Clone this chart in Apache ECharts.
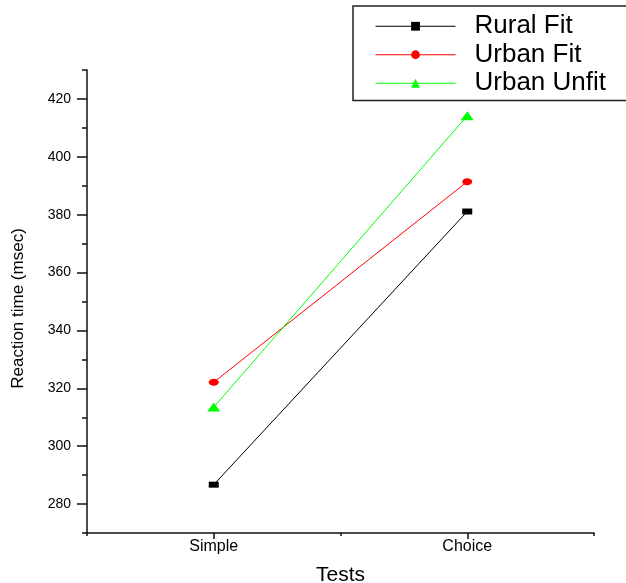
<!DOCTYPE html>
<html>
<head>
    <meta charset="utf-8">
    <title>Reaction time</title>
    <script src="https://cdn.jsdelivr.net/npm/echarts@6/dist/echarts.min.js"></script>
    <style>
        html, body { margin: 0; padding: 0; background: #fff; }
    </style>
</head>
<body>
<div id="main" style="width: 626px;height:583px;"></div>
<script type="text/javascript">
    // data
    var categories = ['Simple', 'Choice'];
    var ruralFit = [286.7, 381.1];
    var urbanFit = [322.1, 391.4];
    var urbanUnfit = [313.5, 414.2];

    // axis ticks
    var yMajorTicks = [280, 300, 320, 340, 360, 380, 400, 420];
    var yMinorTicks = [270, 290, 310, 330, 350, 370, 390, 410, 430];
    var xMajorTicks = [1, 2];
    var xMinorTicks = [0.5, 1.5, 2.5];

    function toPoints(values) {
        return values.map(function (v, i) { return [i + 1, v]; });
    }

    var axisColor = '#111';
    var myChart = echarts.init(document.getElementById('main'));

    var option = {
        backgroundColor: '#fff',
        animation: false,
        grid: { left: 87, right: 32, top: 70, bottom: 50, outerBoundsMode: 'none', containLabel: false },
        legend: {
            orient: 'vertical',
            left: 353,
            top: 6,
            padding: [6, 30, 3, 22],
            itemGap: 0,
            itemWidth: 80,
            itemHeight: 11,
            backgroundColor: '#fff',
            borderColor: '#222',
            borderWidth: 1.5,
            lineStyle: { width: 1 },
            textStyle: {
                fontFamily: 'Liberation Sans',
                fontSize: 26,
                color: '#000',
                lineHeight: 28.5,
                padding: [0, 0, 0, 14]
            },
            data: ['Rural Fit', 'Urban Fit', 'Urban Unfit']
        },
        xAxis: [{
            type: 'value',
            min: 0.5,
            max: 2.5,
            interval: 0.5,
            name: 'Tests',
            nameLocation: 'middle',
            nameGap: 32,
            nameTextStyle: { fontFamily: 'Liberation Sans', fontSize: 21, color: '#000' },
            axisLine: { onZero: false, lineStyle: { color: axisColor, width: 1.5 } },
            axisTick: { show: true, length: 6, customValues: xMajorTicks, lineStyle: { color: axisColor, width: 1.5 } },
            axisLabel: {
                customValues: xMajorTicks,
                margin: 6,
                fontFamily: 'Liberation Sans',
                fontSize: 16,
                color: '#000',
                formatter: function (v) { return categories[Math.round(v) - 1] || ''; }
            },
            splitLine: { show: false }
        }, {
            type: 'value',
            position: 'bottom',
            min: 0.5,
            max: 2.5,
            interval: 0.5,
            axisLine: { show: false, onZero: false },
            axisTick: { show: true, length: 3, customValues: xMinorTicks, lineStyle: { color: axisColor, width: 1.5 } },
            axisLabel: { show: false },
            splitLine: { show: false }
        }],
        yAxis: [{
            type: 'value',
            min: 270,
            max: 430,
            interval: 10,
            name: 'Reaction time (msec)',
            nameLocation: 'middle',
            nameGap: 60,
            nameTextStyle: { fontFamily: 'Liberation Sans', fontSize: 17, color: '#000', padding: [0, 14, 0, 0] },
            axisLine: { show: true, lineStyle: { color: axisColor, width: 1.5 } },
            axisTick: { show: true, length: 10, customValues: yMajorTicks, lineStyle: { color: axisColor, width: 1.5 } },
            axisLabel: {
                customValues: yMajorTicks,
                margin: 16,
                fontFamily: 'Liberation Sans',
                fontSize: 14,
                color: '#000'
            },
            splitLine: { show: false }
        }, {
            type: 'value',
            position: 'left',
            min: 270,
            max: 430,
            interval: 10,
            axisLine: { show: false },
            axisTick: { show: true, length: 5, customValues: yMinorTicks, lineStyle: { color: axisColor, width: 1.5 } },
            axisLabel: { show: false },
            splitLine: { show: false }
        }],
        series: [{
            name: 'Rural Fit',
            type: 'line',
            symbol: 'rect',
            symbolSize: [10, 6],
            itemStyle: { color: '#000' },
            lineStyle: { color: '#000', width: 1 },
            data: toPoints(ruralFit)
        }, {
            name: 'Urban Fit',
            type: 'line',
            symbol: 'circle',
            symbolSize: [10, 7],
            itemStyle: { color: '#ff0000' },
            lineStyle: { color: '#ff0000', width: 1 },
            data: toPoints(urbanFit)
        }, {
            name: 'Urban Unfit',
            type: 'line',
            symbol: 'triangle',
            symbolSize: [13, 9],
            itemStyle: { color: '#00ff00' },
            lineStyle: { color: '#00ff00', width: 1 },
            data: toPoints(urbanUnfit)
        }]
    };

    myChart.setOption(option);
</script>
</body>
</html>
